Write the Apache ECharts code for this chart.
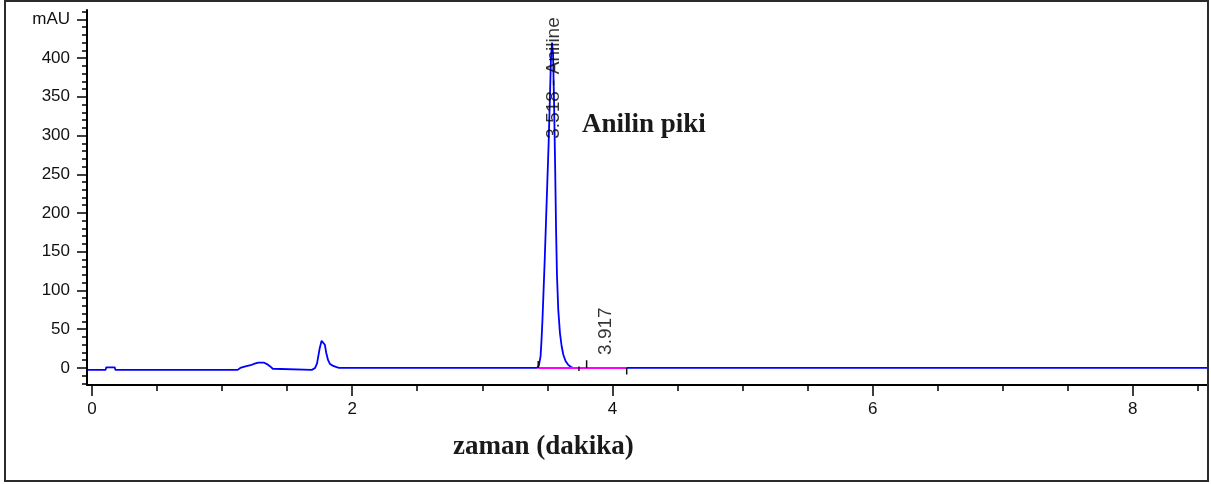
<!DOCTYPE html>
<html>
<head>
<meta charset="utf-8">
<script src="https://cdn.jsdelivr.net/npm/echarts@6/dist/echarts.min.js"></script>
<style>
html,body{margin:0;padding:0;background:#fff;}
#chart{width:1211px;height:484px;}
</style>
</head>
<body>
<div id="chart"></div>
<script>
// ---- data ----
const timeMin = [-0.03, 0.105, 0.11, 0.175, 0.18, 1.12, 1.14, 1.18, 1.22, 1.25, 1.28, 1.32, 1.345, 1.37, 1.39, 1.40,
  1.69, 1.715, 1.73, 1.75, 1.765, 1.775, 1.79, 1.80, 1.815, 1.83, 1.85, 1.88, 1.90,
  3.42, 3.435, 3.448, 3.455, 3.462, 3.470, 3.480, 3.490, 3.500, 3.510, 3.520, 3.528, 3.536, 3.544, 3.552, 3.560,
  3.567, 3.574, 3.584, 3.597, 3.610, 3.623, 3.640, 3.660, 3.680, 3.700, 8.57];
const signalMAU = [-2.5, -2.5, 0.8, 0.8, -2.5, -2.5, 0, 2, 3.5, 5.5, 7, 7, 5, 2, -1, -2.5,
  -2.5, 0, 6, 25, 35, 37, 30, 20, 10, 5, 3, 1, 0,
  0, 3, 15, 35, 60, 95, 140, 190, 240, 290, 350, 400, 420, 405, 340, 260,
  180, 120, 75, 45, 28, 17, 9, 4, 1.5, 0, 0];
const integrationBaseline = [[3.43, 0], [4.11, 0]];
const peakMarks = [[3.43, 0, 9], [3.743, 2, -4], [3.802, 0, 10], [4.11, 0, -8.5]];
const peakLabels = [[3.518, 292, '3.518 - Aniline'], [3.917, 13, '3.917']];
const xMajorTicks = [0, 2, 4, 6, 8];
const xMinorTicks = [0.5, 1, 1.5, 2.5, 3, 3.5, 4.5, 5, 5.5, 6.5, 7, 7.5, 8.5];
const yMajorTicks = [0, 50, 100, 150, 200, 250, 300, 350, 400, 450];
const yMinorTicks = [-20, -10, 10, 20, 30, 40, 60, 70, 80, 90, 110, 120, 130, 140, 160, 170, 180, 190,
  210, 220, 230, 240, 260, 270, 280, 290, 310, 320, 330, 340, 360, 370, 380, 390, 410, 420, 430, 440, 460];
const yUnitLabel = 'mAU';
const xTitle = 'zaman (dakika)';
const annotation = 'Anilin piki';

const chart = echarts.init(document.getElementById('chart'), null, {renderer: 'canvas'});
const sans = 'Liberation Sans, Arial, sans-serif';
const serif = 'Liberation Serif, Times New Roman, serif';
const X_MIN = -0.038, X_MAX = 8.57, Y_MIN = -22, Y_MAX = 462;

const series = [
  {
    type: 'line', xAxisIndex: 0, yAxisIndex: 0,
    data: timeMin.map((t, i) => [t, signalMAU[i]]),
    showSymbol: false, symbol: 'none',
    lineStyle: {color: '#0000ff', width: 1.8}, z: 3
  },
  {
    type: 'line', xAxisIndex: 0, yAxisIndex: 0,
    data: integrationBaseline,
    showSymbol: false, symbol: 'none',
    lineStyle: {color: '#ff00ff', width: 2}, z: 4
  }
];
peakMarks.forEach(m => {
  series.push({
    type: 'line', xAxisIndex: 0, yAxisIndex: 0,
    data: [[m[0], m[1]], [m[0], m[2]]],
    showSymbol: false, symbol: 'none',
    lineStyle: {color: '#111', width: 1.5}, z: 5
  });
});
series.push({
  type: 'scatter', xAxisIndex: 0, yAxisIndex: 0,
  data: peakLabels.map(p => ({value: [p[0], p[1]], name: p[2]})),
  symbolSize: 0, z: 6,
  label: {
    show: true, position: 'inside', rotate: 90,
    align: 'left', verticalAlign: 'middle',
    formatter: p => p.name,
    fontFamily: sans, fontSize: 19, color: '#000', offset: [3, 4]
  }
});

chart.setOption({
  animation: false,
  backgroundColor: '#ffffff',
  grid: {left: 87, right: 4, top: 10, bottom: 99, containLabel: false},
  xAxis: [
    {
      type: 'value', min: X_MIN, max: X_MAX, position: 'bottom',
      axisLine: {show: true, onZero: false, lineStyle: {color: '#000', width: 2}},
      axisTick: {show: true, customValues: xMajorTicks, length: 11, lineStyle: {color: '#000', width: 1.5}},
      axisLabel: {show: true, customValues: xMajorTicks, margin: 16, fontFamily: sans, fontSize: 17, color: '#111'},
      splitLine: {show: false}
    },
    {
      type: 'value', min: X_MIN, max: X_MAX, position: 'bottom',
      axisLine: {show: false, onZero: false},
      axisTick: {show: true, customValues: xMinorTicks, length: 6, lineStyle: {color: '#000', width: 1.5}},
      axisLabel: {show: false},
      splitLine: {show: false}
    }
  ],
  yAxis: [
    {
      type: 'value', min: Y_MIN, max: Y_MAX, position: 'left',
      axisLine: {show: true, onZero: false, lineStyle: {color: '#000', width: 2}},
      axisTick: {show: true, customValues: yMajorTicks, length: 10, lineStyle: {color: '#000', width: 1.5}},
      axisLabel: {show: true, customValues: yMajorTicks, margin: 17, fontFamily: sans, fontSize: 17, color: '#111',
        formatter: v => (v === 450 ? yUnitLabel : String(v))},
      splitLine: {show: false}
    },
    {
      type: 'value', min: Y_MIN, max: Y_MAX, position: 'left',
      axisLine: {show: false, onZero: false},
      axisTick: {show: true, customValues: yMinorTicks, length: 5, lineStyle: {color: '#000', width: 1.5}},
      axisLabel: {show: false},
      splitLine: {show: false}
    }
  ],
  graphic: [
    {type: 'rect', shape: {x: 5, y: 1, width: 1203, height: 480}, style: {fill: null, stroke: '#2b2b2b', lineWidth: 2}, z: 100},
    {type: 'text', left: 582, top: 112, style: {text: annotation, font: 'bold 27px ' + serif, fill: '#1a1a1a'}},
    {type: 'text', left: 453, top: 434, style: {text: xTitle, font: 'bold 27px ' + serif, fill: '#1a1a1a'}}
  ],
  series: series
});
</script>
</body>
</html>
